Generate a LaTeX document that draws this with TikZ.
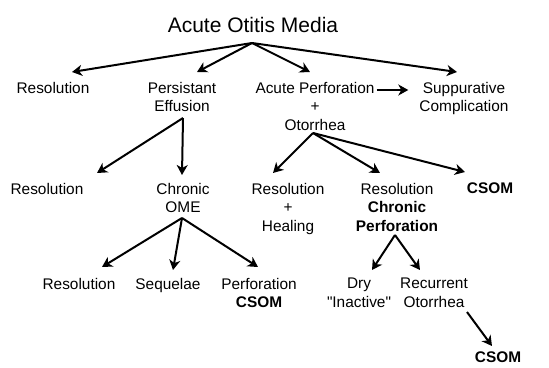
\documentclass[tikz,border=0pt]{standalone}
\usepackage{fontspec}
\setmainfont{Liberation Sans}
\newfontfamily\rawfont{Liberation Sans}[Ligatures=ResetAll]
\usetikzlibrary{arrows.meta,calc}
\begin{document}
\begin{tikzpicture}[x=1pt,y=-1pt,
  >={Stealth[length=10pt,width=11pt,inset=3pt]},
  arr/.style={->, line width=2pt},
  lbl/.style={font=\fontsize{15.4}{18.5}\selectfont, align=center, inner sep=0pt, anchor=north},
  ttl/.style={font=\fontsize{21}{24}\selectfont, inner sep=0pt, anchor=north}]
\useasboundingbox (0,0) rectangle (549,367);
\fill[white] (0,0) rectangle (549,367);
% nodes
\node[ttl] (title) at (253,17) {Acute Otitis Media};
\node[lbl] (res1) at (53,82) {Resolution};
\node[lbl] (pe) at (182,82) {Persistant\\Effusion};
\node[lbl] (ap) at (315,82) {Acute Perforation\\+\\Otorrhea};
\node[lbl] (sc) at (464,82) {Suppurative\\Complication};
\node[lbl] (res2) at (47,183) {Resolution};
\node[lbl] (come) at (183,183) {Chronic\\OME};
\node[lbl] (rh) at (288,183) {Resolution\\+\\Healing};
\node[lbl] (rcp) at (397,183) {Resolution\\\textbf{Chronic}\\\textbf{Perforation}};
\node[lbl] (csom1) at (490,183) {\textbf{CSOM}};
\node[lbl] (res3) at (79,278) {Resolution};
\node[lbl] (seq) at (168,278) {Sequelae};
\node[lbl] (pc) at (259,278) {Perforation\\\textbf{CSOM}};
\node[lbl] (dry) at (359,278) {Dry\\{\rawfont "Inactive"}};
\node[lbl] (ro) at (434,278) {Recurrent\\Otorrhea};
\node[lbl] (csom2) at (498,352) {\textbf{CSOM}};
% fan origins
\coordinate (t0) at (252,43);
\coordinate (pe0) at (183,118);
\coordinate (ap0) at (313,133);
\coordinate (come0) at (182,218);
\coordinate (rcp0) at (395,235);
\coordinate (ro0) at (467,312);
% connectors
\draw[arr] (t0) -- ($(res1.north)+(19,-10)$);
\draw[arr] (t0) -- ($(pe.north)+(15,-10)$);
\draw[arr] (t0) -- ($(ap.north)+(-5,-10)$);
\draw[arr] (t0) -- ($(sc.north)+(-7,-10)$);
\draw[arr] ($(ap.north east)+(2,8)$) -- ($(sc.north west)+(-11,8)$);
\draw[arr] (pe0) -- ($(res2.north)+(50,-10)$);
\draw[arr] (pe0) -- ($(come.north)+(-1,-8)$);
\draw[arr] (ap0) -- ($(rh.north)+(-15,-10)$);
\draw[arr] (ap0) -- ($(rcp.north)+(-17,-10)$);
\draw[arr] (ap0) -- ($(csom1.north)+(-25,-11)$);
\draw[arr] (come0) -- ($(res3.north)+(23,-11)$);
\draw[arr] (come0) -- ($(seq.north)+(5,-8)$);
\draw[arr] (come0) -- ($(pc.north)+(-1,-11)$);
\draw[arr] (rcp0) -- ($(dry.north)+(13,-8)$);
\draw[arr] (rcp0) -- ($(ro.north)+(-14,-8)$);
\draw[arr] (ro0) -- ($(csom2.north)+(-6,-6)$);
\end{tikzpicture}
\end{document}
